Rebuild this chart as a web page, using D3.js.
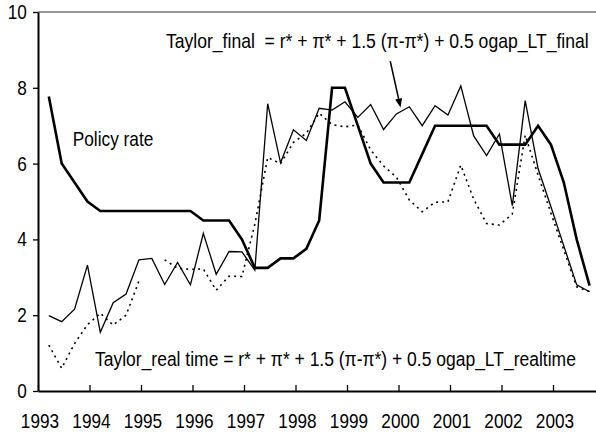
<!DOCTYPE html>
<html>
<head>
<meta charset="utf-8">
<script src="https://cdn.jsdelivr.net/npm/d3@7/dist/d3.min.js"></script>
<style>
  body { margin: 0; background: #fff; }
  svg { display: block; }
  text { font-family: "Liberation Sans", Arial, sans-serif; fill: #000; }
</style>
</head>
<body>
<script>
// quarterly observations, 1993Q1 - 2003Q3
const quarters = [
  "1993Q1","1993Q2","1993Q3","1993Q4",
  "1994Q1","1994Q2","1994Q3","1994Q4",
  "1995Q1","1995Q2","1995Q3","1995Q4",
  "1996Q1","1996Q2","1996Q3","1996Q4",
  "1997Q1","1997Q2","1997Q3","1997Q4",
  "1998Q1","1998Q2","1998Q3","1998Q4",
  "1999Q1","1999Q2","1999Q3","1999Q4",
  "2000Q1","2000Q2","2000Q3","2000Q4",
  "2001Q1","2001Q2","2001Q3","2001Q4",
  "2002Q1","2002Q2","2002Q3","2002Q4",
  "2003Q1","2003Q2","2003Q3"
];

const policyRate = [
  7.77, 6.0, 5.5, 5.0,
  4.75, 4.75, 4.75, 4.75,
  4.75, 4.75, 4.75, 4.75,
  4.5, 4.5, 4.5, 4.0,
  3.25, 3.25, 3.5, 3.5,
  3.75, 4.5, 8.0, 8.0,
  7.0, 6.0, 5.5, 5.5,
  5.5, 6.25, 7.0, 7.0,
  7.0, 7.0, 7.0, 6.5,
  6.5, 6.5, 7.0, 6.5,
  5.5, 4.0, 2.78
];

const taylorFinal = [
  1.99, 1.83, 2.16, 3.32,
  1.55, 2.33, 2.56, 3.46,
  3.50, 2.81, 3.39, 2.80,
  4.16, 3.08, 3.68, 3.67,
  3.19, 7.58, 6.02, 6.89,
  6.61, 7.46, 7.41, 7.63,
  7.22, 7.56, 6.90, 7.31,
  7.50, 7.00, 7.53, 7.28,
  8.05, 6.73, 6.21, 6.78,
  4.89, 7.66, 5.87, 4.86,
  3.83, 2.80, 2.62
];

const taylorRealTime = [
  1.21, 0.60, 1.25, 1.75,
  2.05, 1.74, 2.00, 2.90,
  null, 3.46, 3.24, 3.21,
  3.22, 2.66, 3.03, 3.02,
  4.40, 6.16, 6.00, 6.56,
  6.80, 7.33, 7.03, 6.97,
  7.02, 6.36, 5.94, 5.64,
  5.04, 4.73, 4.98, 4.99,
  5.96, 5.06, 4.42, 4.38,
  4.67, 6.75, 5.70, 4.69,
  3.72, 2.75, 2.62
];

const yearTicks = [1993, 1994, 1995, 1996, 1997, 1998, 1999, 2000, 2001, 2002, 2003];
const rateTicks = [0, 2, 4, 6, 8, 10];

const labelPolicy = "Policy rate";
const labelFinal = "Taylor_final  = r* + \u03c0* + 1.5 (\u03c0-\u03c0*) + 0.5 ogap_LT_final";
const labelRealTime = "Taylor_real time = r* + \u03c0* + 1.5 (\u03c0-\u03c0*) + 0.5 ogap_LT_realtime";

const width = 596, height = 436;
const squeeze = 0.86; // the original text is narrow

const x = d3.scaleLinear().domain([1993, 2003.835]).range([38, 596]);
const y = d3.scaleLinear().domain([0, 10]).range([391, 12]);

// quarter -> position on the time axis
function qTime(q) {
  const yr = +q.slice(0, 4), n = +q.slice(5);
  return yr + (n - 1) / 4 + 0.21;
}

const svg = d3.select("body").append("svg")
  .attr("width", width)
  .attr("height", height);

// top frame line
svg.append("line")
  .attr("x1", x(1993)).attr("x2", width)
  .attr("y1", y(10)).attr("y2", y(10))
  .attr("stroke", "#333").attr("stroke-width", 1.2);

const yAxis = svg.append("g")
  .attr("transform", `translate(${x(1993)},0)`)
  .call(d3.axisLeft(y).tickValues(rateTicks).tickSize(5).tickSizeOuter(0).tickFormat(d3.format("d")))
  .attr("font-size", 20)
  .attr("font-family", null);
yAxis.select(".domain").attr("stroke", "#000").attr("stroke-width", 2);
yAxis.selectAll(".tick line").attr("stroke-width", 1.3);
yAxis.selectAll(".tick text")
  .attr("x", -13)
  .attr("transform", `scale(${squeeze},1)`);

const xAxis = svg.append("g")
  .attr("transform", `translate(0,${y(0)})`)
  .call(d3.axisBottom(x).tickValues(yearTicks).tickSize(-6).tickSizeOuter(0).tickPadding(23).tickFormat(d3.format("d")))
  .attr("font-size", 20)
  .attr("font-family", null);
xAxis.select(".domain").attr("stroke", "#000").attr("stroke-width", 2);
xAxis.selectAll(".tick line").attr("stroke-width", 1.3);
xAxis.selectAll(".tick text")
  .attr("dx", 1.7)
  .attr("transform", `scale(${squeeze},1)`);

const line = d3.line()
  .defined(d => d.v != null)
  .x(d => x(d.t))
  .y(d => y(d.v));

function series(vals) {
  return quarters.map((q, i) => ({ t: qTime(q), v: vals[i] }));
}

svg.append("path")
  .datum(series(taylorRealTime))
  .attr("d", line)
  .attr("fill", "none")
  .attr("stroke", "#000")
  .attr("stroke-width", 1.6)
  .attr("stroke-dasharray", "2,4");

svg.append("path")
  .datum(series(taylorFinal))
  .attr("d", line)
  .attr("fill", "none")
  .attr("stroke", "#000")
  .attr("stroke-width", 1.3);

svg.append("path")
  .datum(series(policyRate))
  .attr("d", line)
  .attr("fill", "none")
  .attr("stroke", "#000")
  .attr("stroke-width", 2.6);

// labels, squeezed horizontally to the width they take in the original
function label(txt, px, py, len) {
  const t = svg.append("text")
    .attr("font-size", 20.5)
    .style("white-space", "pre")
    .text(txt);
  const s = len / t.node().getComputedTextLength();
  t.attr("transform", `translate(${px},${py}) scale(${s},1)`);
}
label(labelPolicy, 72.7, 145.7, 80.7);
label(labelFinal, 166, 48.3, 423);
label(labelRealTime, 95, 366, 481);

// arrow pointing at Taylor_final
const a0 = [x(1999.84), y(8.70)];
const a1 = [x(2000.04), y(7.48)];
const dx = a1[0] - a0[0], dy = a1[1] - a0[1];
const len = Math.hypot(dx, dy), ux = dx / len, uy = dy / len;
const head = 9, half = 3.5;
const bx = a1[0] - ux * head, by = a1[1] - uy * head;
svg.append("line")
  .attr("x1", a0[0]).attr("y1", a0[1])
  .attr("x2", bx).attr("y2", by)
  .attr("stroke", "#000").attr("stroke-width", 1.5);
svg.append("path")
  .attr("d", `M${a1[0]},${a1[1]}L${bx - uy * half},${by + ux * half}L${bx + uy * half},${by - ux * half}Z`)
  .attr("fill", "#000");
</script>
</body>
</html>
